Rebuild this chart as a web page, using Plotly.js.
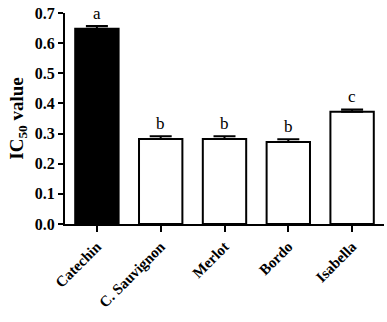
<!DOCTYPE html>
<html><head><meta charset="utf-8">
<script src="https://cdn.plot.ly/plotly-3.0.1.min.js"></script>
<style>html,body{margin:0;padding:0;background:#fff}</style>
</head><body>
<div id="chart" style="width:387px;height:322px"></div>
<script>
const categories = ["Catechin", "C. Sauvignon", "Merlot", "Bordo", "Isabella"];
const values = [0.648, 0.282, 0.282, 0.272, 0.372];
const errors = [0.009, 0.009, 0.009, 0.009, 0.008];
const letters = ["a", "b", "b", "b", "c"];
const fills = ["#000000", "#ffffff", "#ffffff", "#ffffff", "#ffffff"];
const yTicks = [0, 0.1, 0.2, 0.3, 0.4, 0.5, 0.6, 0.7];
const yTickText = ["0.0", "0.1", "0.2", "0.3", "0.4", "0.5", "0.6", "0.7"];

const serif = "Liberation Serif, Times New Roman, serif";

const trace = {
  type: "bar",
  x: categories,
  y: values,
  width: 0.68,
  marker: {color: fills, line: {color: "#000", width: 2}},
  error_y: {type: "data", array: errors, visible: true, color: "#000", thickness: 2, width: 11, symmetric: false, arrayminus: [0,0,0,0,0]},
  hoverinfo: "none"
};

const annotations = categories.map((c, i) => ({
  x: c, y: values[i] + errors[i], xref: "x", yref: "y",
  text: letters[i], showarrow: false, yanchor: "bottom", yshift: 1,
  font: {family: serif, size: 17, color: "#000000"}
}));

const layout = {
  width: 387, height: 322,
  margin: {l: 65, r: 3, t: 13, b: 98},
  paper_bgcolor: "#fff", plot_bgcolor: "#fff",
  showlegend: false,
  xaxis: {
    showline: true, linecolor: "#000", linewidth: 2,
    ticks: "outside", ticklen: 6, tickwidth: 2, tickcolor: "#000",
    tickangle: -45, showgrid: false, zeroline: false,
    tickfont: {family: serif, size: 15, color: "#000", weight: "bold"},
    range: [-0.5, 4.5]
  },
  yaxis: {
    range: [0, 0.7], tickvals: yTicks, ticktext: yTickText,
    showline: true, linecolor: "#000", linewidth: 2,
    ticks: "outside", ticklen: 5, tickwidth: 2, tickcolor: "#000",
    showgrid: false, zeroline: false,
    tickfont: {family: serif, size: 16, color: "#000", weight: "bold"},
    title: {text: "IC<sub>50</sub> value", standoff: 6, font: {family: serif, size: 19, color: "#000", weight: "bold"}}
  },
  annotations: annotations
};

Plotly.newPlot("chart", [trace], layout, {staticPlot: true, displayModeBar: false});
</script>
</body></html>
